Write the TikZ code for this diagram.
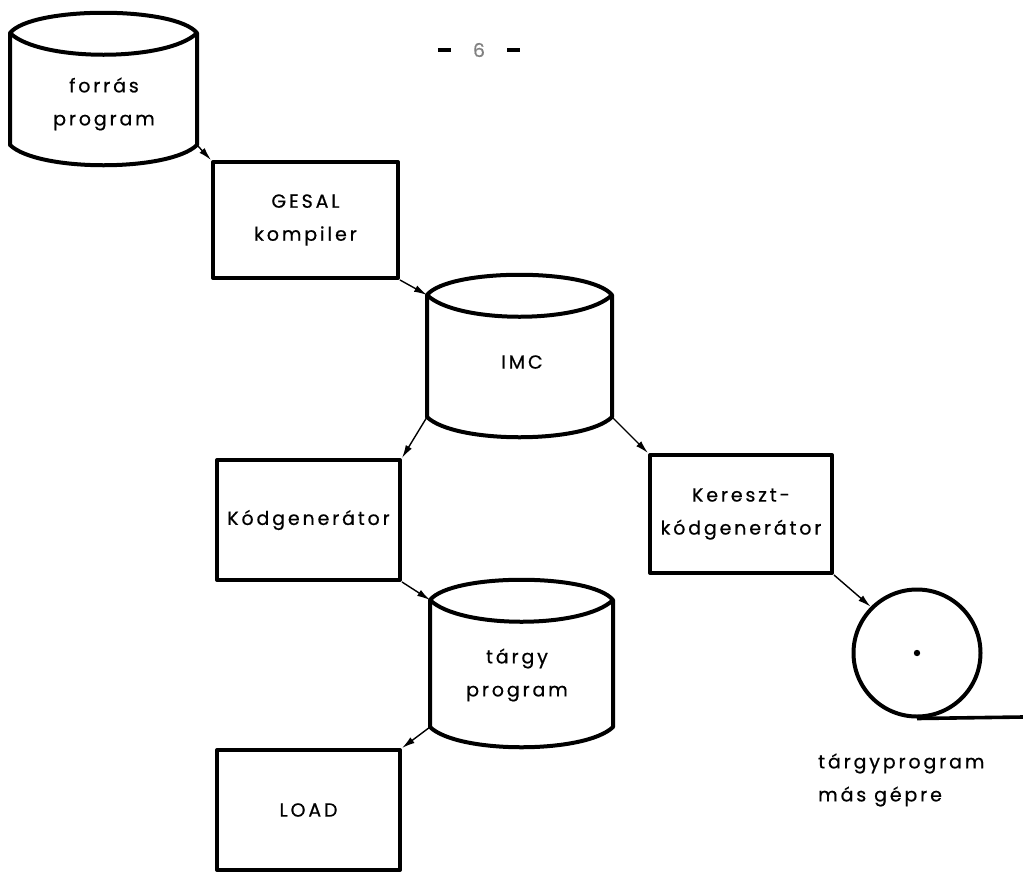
\documentclass[tikz,border=0pt]{standalone}
\usepackage{fontspec}
\setmainfont{Poppins}[LetterSpace=15, FakeBold=0.6]
\usetikzlibrary{arrows.meta,calc}

\tikzset{
  x=1pt, y=-1pt,
  lbl/.style={font=\fontsize{19pt}{33pt}\selectfont, align=center, inner sep=0pt},
  proc/.style={draw, line width=4pt, line join=round, inner sep=0pt,
               font=\fontsize{19pt}{33pt}\selectfont, align=center},
  drumbody/.style={draw=none, inner sep=0pt, outer sep=0pt},
  drumline/.style={line width=4pt, line join=round},
  conn/.style={line width=1.4pt, -{Latex[length=13pt,width=7pt]}},
}

% outline of a drum store: lens-shaped top, straight sides, curved bottom
% (y grows downwards here, so a negative y offset bulges upwards)
\newcommand\drumoutline[1]{%
  \draw[drumline] (#1.north west)
        .. controls ($(#1.north west)+(22,-27)$) and ($(#1.north east)+(-22,-27)$) .. (#1.north east)
        -- (#1.south east)
        .. controls ($(#1.south east)+(-28,27)$) and ($(#1.south west)+(28,27)$) .. (#1.south west)
        -- cycle;
  \draw[drumline] (#1.north west)
        .. controls ($(#1.north west)+(30,29)$) and ($(#1.north east)+(-30,29)$) .. (#1.north east);
}

\begin{document}
\begin{tikzpicture}
\useasboundingbox (0,0) rectangle (1023,876);

% page number
\node[lbl] (pgnum) at (479,50) {\rule[5pt]{13pt}{3.5pt}\hspace{22pt}{\color{gray}6}\hspace{22pt}\rule[5pt]{13pt}{3.5pt}};

% drum stores
\node[drumbody, minimum width=187pt, minimum height=112pt] (src) at (103.5,89) {};
\drumoutline{src}
\node[lbl] (srctext) at (104,104) {forrás\\program};

\node[drumbody, minimum width=185pt, minimum height=122pt] (imc) at (519.5,356) {};
\drumoutline{imc}
\node[lbl] (imctext) at (522,362) {IMC};

\node[drumbody, minimum width=183pt, minimum height=127pt] (obj) at (521.5,663.5) {};
\drumoutline{obj}
\node[lbl] (objtext) at (517,675) {tárgy\\program};

% processing boxes
\node[proc, minimum width=185pt, minimum height=116pt] (gesal) at (305.5,220) {GESAL\\kompiler};
\node[proc, minimum width=183pt, minimum height=120pt] (kod) at (308.5,520) {Kódgenerátor};
\node[proc, minimum width=183pt, minimum height=120pt] (load) at (308.5,810) {LOAD};
\node[proc, minimum width=182pt, minimum height=118pt] (kereszt) at (741,514) {Kereszt-\\kódgenerátor};

% magnetic tape reel
\node[draw, circle, line width=4pt, minimum size=127pt, inner sep=0pt] (reel) at (917,653) {};
\fill (reel.center) circle (3.2);
\coordinate (tapeend) at (1023,717);
\draw[line width=3.6pt] (reel.south) -- (tapeend);
\node[lbl, align=left, anchor=west] (reeltext) at (818,780) {tárgyprogram\\más gépre};

% data flow
\draw[conn] (src.south east) -- (gesal.north west);
\draw[conn] (gesal.south east) -- (imc.north west);
\draw[conn] (imc.south west) -- (kod.north east);
\draw[conn] (imc.south east) -- (kereszt.north west);
\draw[conn] (kod.south east) -- (obj.north west);
\draw[conn] (obj.south west) -- (load.north east);
\draw[conn] (kereszt.south east) -- (reel.north west);
\end{tikzpicture}
\end{document}
